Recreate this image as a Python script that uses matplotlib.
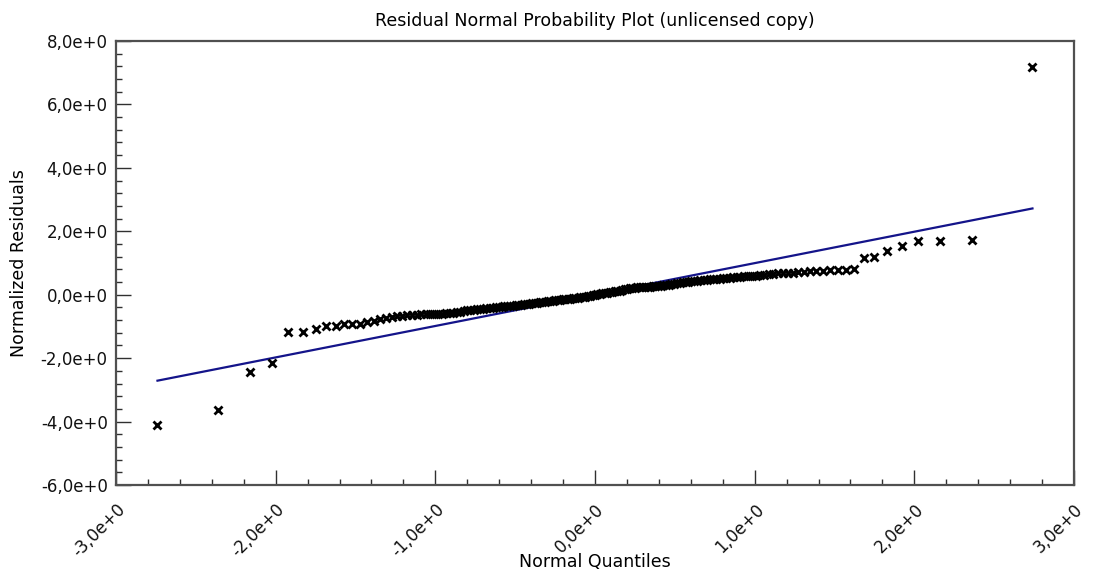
import matplotlib
matplotlib.use("Agg")
import matplotlib.pyplot as plt
from matplotlib.ticker import MultipleLocator

# ---- data ----
quantiles = [
    -2.74, -2.36, -2.16, -2.02, -1.92, -1.83, -1.75, -1.685, -1.625, -1.57,
    -1.52, -1.472, -1.428, -1.386, -1.347, -1.31, -1.274, -1.24, -1.208, -1.177,
    -1.146, -1.117, -1.089, -1.061, -1.035, -1.009, -0.984, -0.959, -0.935, -0.911,
    -0.888, -0.866, -0.844, -0.822, -0.801, -0.78, -0.759, -0.739, -0.719, -0.699,
    -0.68, -0.66, -0.641, -0.622, -0.604, -0.585, -0.567, -0.549, -0.532, -0.514,
    -0.496, -0.479, -0.462, -0.445, -0.428, -0.411, -0.395, -0.378, -0.361, -0.345,
    -0.329, -0.312, -0.296, -0.28, -0.264, -0.248, -0.232, -0.217, -0.201, -0.185,
    -0.17, -0.154, -0.139, -0.123, -0.108, -0.092, -0.077, -0.062, -0.046, -0.031,
    -0.015, 0.0,
    0.015, 0.031, 0.046, 0.062, 0.077, 0.092, 0.108, 0.123, 0.139, 0.154,
    0.17, 0.185, 0.201, 0.217, 0.232, 0.248, 0.264, 0.28, 0.296, 0.312,
    0.329, 0.345, 0.361, 0.378, 0.395, 0.411, 0.428, 0.445, 0.462, 0.479,
    0.496, 0.514, 0.532, 0.549, 0.567, 0.585, 0.604, 0.622, 0.641, 0.66,
    0.68, 0.699, 0.719, 0.739, 0.759, 0.78, 0.801, 0.822, 0.844, 0.866,
    0.888, 0.911, 0.935, 0.959, 0.984, 1.009, 1.035, 1.061, 1.089, 1.117,
    1.146, 1.177, 1.208, 1.24, 1.274, 1.31, 1.347, 1.386, 1.428, 1.472,
    1.52, 1.57, 1.625, 1.685, 1.75, 1.83, 1.92, 2.02, 2.16, 2.36, 2.74,
]
residuals = [
    -4.11, -3.62, -2.45, -2.16, -1.19, -1.19, -1.09, -0.99, -0.99, -0.93,
    -0.93, -0.92, -0.85, -0.84, -0.75, -0.72, -0.69, -0.67, -0.66, -0.65,
    -0.64, -0.63, -0.62, -0.62, -0.61, -0.61, -0.60, -0.60, -0.59, -0.58,
    -0.57, -0.55, -0.53, -0.51, -0.49, -0.48, -0.47, -0.46, -0.45, -0.44,
    -0.43, -0.42, -0.41, -0.40, -0.39, -0.38, -0.37, -0.36, -0.35, -0.34,
    -0.33, -0.32, -0.31, -0.30, -0.29, -0.28, -0.27, -0.26, -0.25, -0.24,
    -0.23, -0.22, -0.21, -0.20, -0.19, -0.18, -0.17, -0.16, -0.15, -0.14,
    -0.13, -0.12, -0.11, -0.10, -0.09, -0.08, -0.07, -0.06, -0.05, -0.04,
    -0.02, 0.0,
    0.01, 0.03, 0.04, 0.05, 0.07, 0.08, 0.09, 0.11, 0.12, 0.13,
    0.15, 0.17, 0.19, 0.21, 0.22, 0.22, 0.23, 0.23, 0.24, 0.24,
    0.25, 0.25, 0.26, 0.27, 0.28, 0.29, 0.30, 0.31, 0.32, 0.34,
    0.35, 0.36, 0.38, 0.39, 0.40, 0.41, 0.42, 0.43, 0.44, 0.45,
    0.46, 0.47, 0.48, 0.49, 0.50, 0.51, 0.52, 0.53, 0.54, 0.55,
    0.56, 0.57, 0.58, 0.59, 0.60, 0.60, 0.61, 0.62, 0.65, 0.66,
    0.67, 0.68, 0.69, 0.70, 0.71, 0.72, 0.74, 0.75, 0.76, 0.77,
    0.78, 0.79, 0.80, 1.15, 1.20, 1.39, 1.54, 1.69, 1.69, 1.73, 7.18,
]
fit_x = [-2.74, 2.74]
fit_y = [-2.71, 2.72]

x_ticks = [-3, -2, -1, 0, 1, 2, 3]
x_tick_labels = ["-3,0e+0", "-2,0e+0", "-1,0e+0", "0,0e+0", "1,0e+0", "2,0e+0", "3,0e+0"]
y_ticks = [-6, -4, -2, 0, 2, 4, 6, 8]
y_tick_labels = ["-6,0e+0", "-4,0e+0", "-2,0e+0", "0,0e+0", "2,0e+0", "4,0e+0", "6,0e+0", "8,0e+0"]

title = "Residual Normal Probability Plot (unlicensed copy)"
x_label = "Normal Quantiles"
y_label = "Normalized Residuals"

# ---- drawing ----
plt.rcParams['font.family'] = ['DejaVu Sans']

fig = plt.figure(figsize=(10.93, 5.75), dpi=100)
ax = fig.add_axes([0.1061, 0.1565, 0.8765, 0.7722])

ax.plot(fit_x, fit_y, color='#14148a', linewidth=1.6, zorder=2)
ax.plot(quantiles, residuals, linestyle='none', marker='x', color='black',
        markersize=5.5, markeredgewidth=2.0, zorder=3)

ax.set_xlim(-3, 3)
ax.set_ylim(-6, 8)
ax.set_xticks(x_ticks)
ax.set_xticklabels(x_tick_labels, rotation=45, ha='right', va='top',
                   rotation_mode='anchor')
ax.set_yticks(y_ticks)
ax.set_yticklabels(y_tick_labels)
ax.xaxis.set_minor_locator(MultipleLocator(0.2))
ax.yaxis.set_minor_locator(MultipleLocator(0.4))

ax.tick_params(which='major', direction='in', length=11, width=1.0,
               color='#303030', labelsize=12, labelcolor='#111111', pad=6)
ax.tick_params(which='minor', direction='in', length=4, width=1.0,
               color='#303030')
ax.tick_params(axis='x', which='major', pad=11)
ax.tick_params(top=False, right=False, which='both')

for s in ax.spines.values():
    s.set_color('#505050')
    s.set_linewidth(1.6)

ax.set_title(title, fontsize=12.5, pad=11)
ax.set_xlabel(x_label, fontsize=12.5)
ax.set_ylabel(y_label, fontsize=12.5)
ax.xaxis.set_label_coords(0.5, -0.152)
ax.yaxis.set_label_coords(-0.092, 0.5)

fig.savefig("out.png", dpi=100, facecolor='white')
